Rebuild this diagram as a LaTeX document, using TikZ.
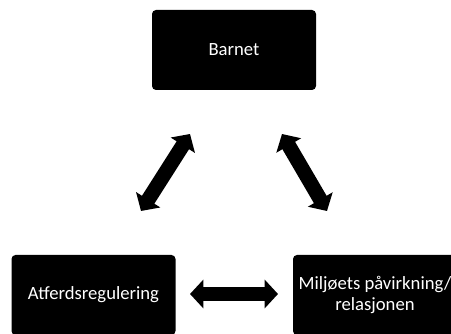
\documentclass[tikz,border=0pt]{standalone}
\usepackage{fontspec}
\setmainfont{Carlito}
\usetikzlibrary{arrows.meta, positioning}

\begin{document}
\begin{tikzpicture}[
  x=0.75pt, y=-0.75pt,
  box/.style={fill=black, rounded corners=3pt, minimum width=123pt,
              minimum height=60pt, inner sep=0pt, text=white, align=center,
              font=\fontsize{14}{16}\selectfont},
  arrow/.style={line width=11pt,
                arrows={Triangle[width=21pt,length=10pt]-Triangle[width=21pt,length=10pt]}}
]
\clip (0,0) rectangle (451,334);

\node[box] (barnet) at (234,50) {Barnet};
\node[box] (atferd) at (93.5,295) {Atferdsregulering};
\node[box] (miljo) at (375,295) {Miljøets påvirkning/\\relasjonen};

% free ends of the double arrows
\coordinate (bl) at (190,134);
\coordinate (al) at (141,211);
\coordinate (br) at (282,134);
\coordinate (mr) at (327,211);
\coordinate (ah) at (190,294);
\coordinate (mh) at (278,294);

\draw[arrow] (bl) -- (al);
\draw[arrow] (br) -- (mr);
\draw[arrow] (ah) -- (mh);
\end{tikzpicture}
\end{document}
